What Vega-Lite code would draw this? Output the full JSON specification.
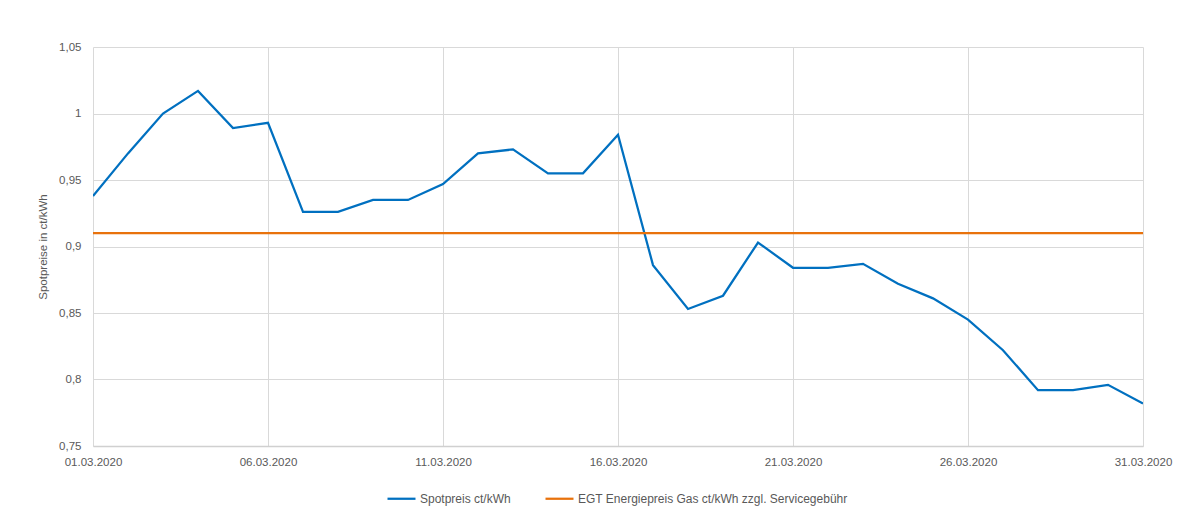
{
  "$schema": "https://vega.github.io/schema/vega-lite/v6.json",
  "autosize": {"type": "none"},
  "padding": {"left": 93, "top": 47, "right": 48, "bottom": 79},
  "width": 1050,
  "height": 399,
  "background": "white",
  "config": {
    "locale": {"number": {"decimal": ",", "thousands": ".", "grouping": [3], "currency": ["", " €"]}},
    "font": "Liberation Sans",
    "view": {"stroke": null},
    "axis": {
      "gridColor": "#d9d9d9",
      "gridWidth": 1,
      "ticks": false,
      "labelColor": "#595959",
      "labelFont": "Liberation Sans",
      "labelFontSize": 11.5,
      "titleColor": "#595959",
      "titleFont": "Liberation Sans",
      "titleFontSize": 11.5,
      "titleFontWeight": "normal"
    }
  },
  "data": {
    "values": [
      {"date": "2020-03-01", "spot": 0.938, "egt": 0.91},
      {"date": "2020-03-02", "spot": 0.970, "egt": 0.91},
      {"date": "2020-03-03", "spot": 1.000, "egt": 0.91},
      {"date": "2020-03-04", "spot": 1.017, "egt": 0.91},
      {"date": "2020-03-05", "spot": 0.989, "egt": 0.91},
      {"date": "2020-03-06", "spot": 0.993, "egt": 0.91},
      {"date": "2020-03-07", "spot": 0.926, "egt": 0.91},
      {"date": "2020-03-08", "spot": 0.926, "egt": 0.91},
      {"date": "2020-03-09", "spot": 0.935, "egt": 0.91},
      {"date": "2020-03-10", "spot": 0.935, "egt": 0.91},
      {"date": "2020-03-11", "spot": 0.947, "egt": 0.91},
      {"date": "2020-03-12", "spot": 0.970, "egt": 0.91},
      {"date": "2020-03-13", "spot": 0.973, "egt": 0.91},
      {"date": "2020-03-14", "spot": 0.955, "egt": 0.91},
      {"date": "2020-03-15", "spot": 0.955, "egt": 0.91},
      {"date": "2020-03-16", "spot": 0.984, "egt": 0.91},
      {"date": "2020-03-17", "spot": 0.886, "egt": 0.91},
      {"date": "2020-03-18", "spot": 0.853, "egt": 0.91},
      {"date": "2020-03-19", "spot": 0.863, "egt": 0.91},
      {"date": "2020-03-20", "spot": 0.903, "egt": 0.91},
      {"date": "2020-03-21", "spot": 0.884, "egt": 0.91},
      {"date": "2020-03-22", "spot": 0.884, "egt": 0.91},
      {"date": "2020-03-23", "spot": 0.887, "egt": 0.91},
      {"date": "2020-03-24", "spot": 0.872, "egt": 0.91},
      {"date": "2020-03-25", "spot": 0.861, "egt": 0.91},
      {"date": "2020-03-26", "spot": 0.845, "egt": 0.91},
      {"date": "2020-03-27", "spot": 0.822, "egt": 0.91},
      {"date": "2020-03-28", "spot": 0.792, "egt": 0.91},
      {"date": "2020-03-29", "spot": 0.792, "egt": 0.91},
      {"date": "2020-03-30", "spot": 0.796, "egt": 0.91},
      {"date": "2020-03-31", "spot": 0.782, "egt": 0.91}
    ]
  },
  "transform": [
    {"fold": ["spot", "egt"], "as": ["key", "value"]},
    {"lookup": "key", "from": {"data": {"values": [
      {"key": "spot", "series": "Spotpreis ct/kWh"},
      {"key": "egt", "series": "EGT Energiepreis Gas ct/kWh zzgl. Servicegebühr"}
    ]}, "key": "key", "fields": ["series"]}}
  ],
  "mark": {"type": "line", "strokeWidth": 2.25, "clip": true},
  "encoding": {
    "x": {
      "field": "date",
      "type": "temporal",
      "scale": {"type": "utc", "domain": [{"year": 2020, "month": 3, "date": 1, "utc": true}, {"year": 2020, "month": 3, "date": 31, "utc": true}]},
      "axis": {
        "title": null,
        "format": "%d.%m.%Y",
        "values": [
          {"year": 2020, "month": 3, "date": 1, "utc": true},
          {"year": 2020, "month": 3, "date": 6, "utc": true},
          {"year": 2020, "month": 3, "date": 11, "utc": true},
          {"year": 2020, "month": 3, "date": 16, "utc": true},
          {"year": 2020, "month": 3, "date": 21, "utc": true},
          {"year": 2020, "month": 3, "date": 26, "utc": true},
          {"year": 2020, "month": 3, "date": 31, "utc": true}
        ],
        "labelPadding": 10,
        "labelFlush": false,
        "labelOverlap": false,
        "domainColor": "#d0d0d0",
        "domainWidth": 1.5
      }
    },
    "y": {
      "field": "value",
      "type": "quantitative",
      "scale": {"domain": [0.75, 1.05], "nice": false, "zero": false},
      "axis": {
        "title": "Spotpreise in ct/kWh",
        "format": ".2~f",
        "values": [0.75, 0.8, 0.85, 0.9, 0.95, 1, 1.05],
        "domain": false,
        "labelPadding": 12,
        "titlePadding": 10
      }
    },
    "color": {
      "field": "series",
      "type": "nominal",
      "scale": {
        "domain": ["Spotpreis ct/kWh", "EGT Energiepreis Gas ct/kWh zzgl. Servicegebühr"],
        "range": ["#0070C0", "#E8720C"]
      },
      "legend": {
        "title": null,
        "orient": "none",
        "direction": "horizontal",
        "legendX": 293,
        "legendY": 436,
        "padding": 0,
        "symbolType": "stroke",
        "symbolSize": 784,
        "symbolStrokeWidth": 2.25,
        "labelFont": "Liberation Sans",
        "labelFontSize": 12,
        "labelColor": "#595959",
        "labelOffset": 3,
        "labelLimit": 0,
        "columnPadding": 30
      }
    }
  }
}
